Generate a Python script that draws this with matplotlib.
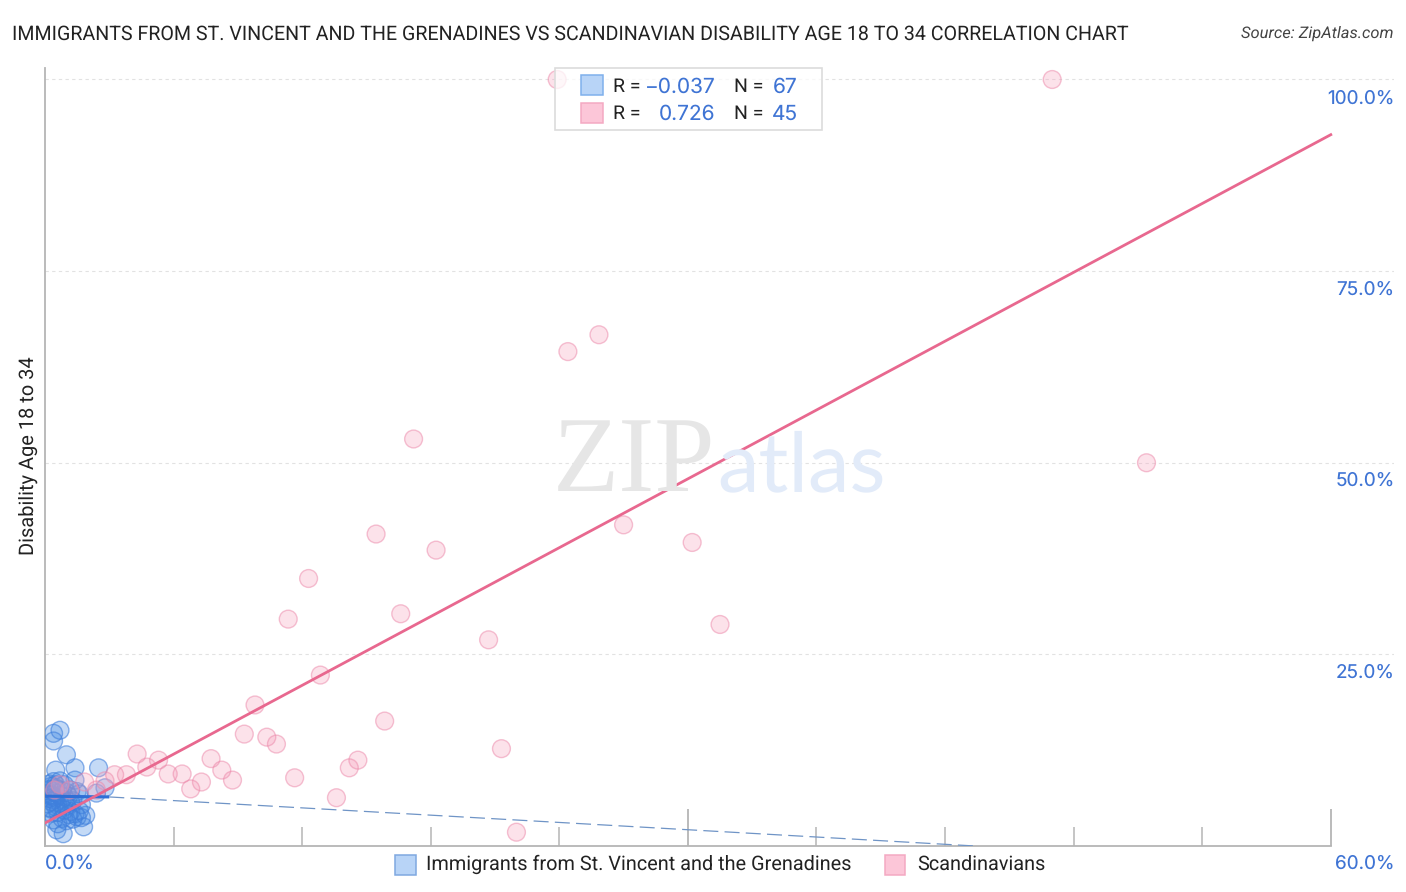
import matplotlib

matplotlib.use("Agg")
import matplotlib.pyplot as plt
from matplotlib.patches import Rectangle

W, H = 1406, 892
BLUE = "#3f74d4"
TEXT = "#222222"
NUM_FONT = ["Inter", "DejaVu Sans"]

# Immigrants from St. Vincent and the Grenadines, percent values
blue_x = [0.7, 0.4, 0.4, 1.0, 2.5, 1.4, 0.5, 1.8, 0.85, 0.55, 1.9, 2.8, 2.4,
          0.1, 0.2, 0.2, 0.3, 0.3, 0.3, 0.4, 0.4, 0.4, 0.5, 0.5, 0.5, 0.6,
          0.6, 0.6, 0.7, 0.7, 0.8, 0.8, 0.8, 0.9, 0.9, 1.0, 1.0, 1.0, 1.1,
          1.1, 1.2, 1.2, 1.3, 1.3, 1.4, 1.4, 1.5, 1.5, 1.6, 1.6, 1.7, 1.7,
          0.1, 0.2, 0.3, 0.4, 0.5, 0.6, 0.2, 0.3, 0.1, 0.2, 0.4, 0.5, 0.7,
          0.9, 1.2]
blue_y = [15.1, 14.7, 13.7, 11.9, 10.2, 10.2, 9.9, 2.5, 1.6, 2.1, 4.0, 7.6, 6.9,
          5.5, 6.2, 7.4, 4.8, 5.8, 7.8, 3.4, 6.4, 8.4, 5.1, 6.9, 8.0, 2.9,
          4.4, 7.4, 5.6, 8.5, 3.6, 6.1, 7.2, 4.7, 8.0, 3.3, 5.2, 7.0, 4.1,
          6.5, 4.5, 7.3, 3.5, 5.9, 4.2, 8.6, 3.8, 7.1, 4.6, 6.8, 3.7, 5.4,
          6.8, 5.0, 6.7, 6.0, 7.6, 5.3, 8.1, 4.3, 7.2, 6.6, 7.1, 6.2, 6.6,
          6.4, 5.7]

# Scandinavians, percent values
pink_x = [23.9, 47.0, 25.85, 24.4, 17.2, 51.4, 15.45, 18.25, 27.0, 30.2, 12.3,
          16.6, 11.35, 31.5, 20.7, 12.85, 9.8, 15.85, 9.3, 10.35, 10.8, 4.3,
          5.3, 4.75, 7.75, 21.3, 14.6, 14.2, 8.25, 6.4, 5.75, 3.8, 3.25, 8.75,
          7.3, 11.65, 6.8, 13.6, 22.0, 2.8, 1.85, 0.7, 0.45, 1.15, 2.4]
pink_y = [100.0, 100.0, 66.7, 64.5, 53.1, 50.0, 40.7, 38.6, 41.9, 39.6, 34.9,
          30.3, 29.6, 28.9, 26.9, 22.3, 18.4, 16.3, 14.6, 14.2, 13.3, 12.0,
          11.2, 10.3, 11.4, 12.7, 11.2, 10.2, 9.9, 9.4, 9.4, 9.3, 9.3, 8.6,
          8.35, 8.9, 7.45, 6.3, 1.8, 8.5, 8.35, 8.0, 7.3, 7.3, 7.3]

# trend lines
pink_trend_x = [0, 60]
pink_trend_y = [3.0, 92.8]
blue_solid_x = [0, 3.0]
blue_solid_y = [6.5, 6.4]
blue_dash_x = [3.0, 43.4]
blue_dash_y = [6.4, 0.0]

major_ticks = [0, 30, 60]
minor_ticks = [6, 12, 18, 24, 36, 42, 48, 54]
y_ticks = [25, 50, 75, 100]
y_tick_labels = ["25.0%", "50.0%", "75.0%", "100.0%"]
y_label_px = [672.5, 480.5, 289.5, 98.5]


def fx(px):
    return px / W


def fy(py):
    return 1 - py / H


def fig_text(px, py, s, **kw):
    fig.text(fx(px), fy(py), s, **kw)


plt.rcParams["font.family"] = ["Roboto", "DejaVu Sans"]
plt.rcParams["text.hinting"] = "no_hinting"

fig = plt.figure(figsize=(14.06, 8.92), dpi=100)
ax = fig.add_axes([fx(45), fy(846), fx(1394 - 45), (846 - 68) / H])
ax.set_xlim(0, 62.95)
ax.set_ylim(0, 101.5)
ax.patch.set_alpha(0)

for s in ["top", "right"]:
    ax.spines[s].set_visible(False)
for s in ["left", "bottom"]:
    ax.spines[s].set_color("#b5b5b5")
    ax.spines[s].set_linewidth(1.3)
ax.spines["bottom"].set_bounds(0, 60)

ax.set_yticks(y_ticks)
ax.set_yticklabels([])
ax.set_xticks(major_ticks)
ax.set_xticks(minor_ticks, minor=True)
ax.set_xticklabels([])
ax.tick_params(axis="y", length=0)
ax.tick_params(axis="x", which="major", direction="in", length=27, width=1.3, color="#b5b5b5")
ax.tick_params(axis="x", which="minor", direction="in", length=13.5, width=1.1, color="#b5b5b5")
ax.grid(axis="y", color="#e2e2e2", linestyle=(0, (3, 3)), linewidth=0.8)
ax.set_axisbelow(True)

# watermark
fig_text(553, 491, "ZIP", family="Liberation Serif", fontsize=78, color="#e6e6e6")
fig_text(717, 491, "atlas", family="Lato", fontsize=60, color="#e2ebf9")

ax.scatter(blue_x, blue_y, s=165, facecolor="#5c9be8", alpha=0.36, edgecolor="none", zorder=3)
ax.scatter(blue_x, blue_y, s=165, facecolor="none", edgecolor="#3f7fdc", alpha=0.6, linewidth=1.0, zorder=3)
ax.scatter(pink_x, pink_y, s=165, facecolor="#f7a8c2", alpha=0.33, edgecolor="none", zorder=4)
ax.scatter(pink_x, pink_y, s=165, facecolor="none", edgecolor="#ec86a8", alpha=0.5, linewidth=1.0, zorder=4)

ax.plot(blue_solid_x, blue_solid_y, color="#2f6fd6", linewidth=2.2, zorder=5, solid_capstyle="butt")
ax.plot(blue_dash_x, blue_dash_y, color="#6f94c6", linewidth=0.9, linestyle=(0, (12, 5)), zorder=5)
ax.plot(pink_trend_x, pink_trend_y, color="#e8688f", linewidth=2.0, zorder=6)

# title and source
fig_text(12, 39.5, "IMMIGRANTS FROM ST. VINCENT AND THE GRENADINES VS SCANDINAVIAN DISABILITY AGE 18 TO 34 CORRELATION CHART",
         fontsize=14.15, color=TEXT)
fig_text(1394, 38, "Source: ZipAtlas.com", fontsize=11.85, style="italic", color="#444444", ha="right")

# y label
fig_text(28, 456, "Disability Age 18 to 34", fontsize=14.4, color=TEXT, rotation=90, ha="center", va="center")

# tick labels
for py, lab in zip(y_label_px, y_tick_labels):
    fig_text(1394.5, py, lab, fontsize=13.6, color=BLUE, ha="right", va="center", family=NUM_FONT)
fig_text(45, 864, "0.0%", fontsize=14.2, color=BLUE, va="center", family=NUM_FONT)
fig_text(1394.5, 864, "60.0%", fontsize=13.6, color=BLUE, ha="right", va="center", family=NUM_FONT)

# stats box
fig.add_artist(Rectangle((fx(555), fy(130)), fx(267), 62 / H, transform=fig.transFigure,
                         facecolor=(1, 1, 1, 0.75), edgecolor="#dcdcdc", linewidth=1.2, zorder=7))
fig.add_artist(Rectangle((fx(581), fy(95)), fx(22), 20 / H, transform=fig.transFigure,
                         facecolor="#b8d4f7", edgecolor="#7fb0ec", linewidth=1.1, zorder=8))
fig.add_artist(Rectangle((fx(581), fy(123)), fx(22), 20 / H, transform=fig.transFigure,
                         facecolor="#fcc6d8", edgecolor="#f4a9c2", linewidth=1.1, zorder=8))
for py, r, n in [(87, "\u22120.037", "67"), (114, "0.726", "45")]:
    fig_text(613, py, "R =", fontsize=14, color=TEXT, va="center", zorder=9)
    fig_text(715.5, py, r, fontsize=15, color=BLUE, ha="right", va="center", zorder=9, family=NUM_FONT)
    fig_text(734, py, "N =", fontsize=14, color=TEXT, va="center", zorder=9)
    fig_text(797.5, py, n, fontsize=15, color=BLUE, ha="right", va="center", zorder=9, family=NUM_FONT)

# bottom legend
fig.add_artist(Rectangle((fx(395), fy(875)), fx(21), 20 / H, transform=fig.transFigure,
                         facecolor="#b8d4f7", edgecolor="#7fa8e0", linewidth=1.1))
fig_text(426, 864, "Immigrants from St. Vincent and the Grenadines", fontsize=14.35, color=TEXT, va="center")
fig.add_artist(Rectangle((fx(885), fy(875)), fx(20), 20 / H, transform=fig.transFigure,
                         facecolor="#fcc6d8", edgecolor="#f4a9c2", linewidth=1.1))
fig_text(917, 864, "Scandinavians", fontsize=14.35, color=TEXT, va="center")

fig.savefig("out.png", dpi=100)
